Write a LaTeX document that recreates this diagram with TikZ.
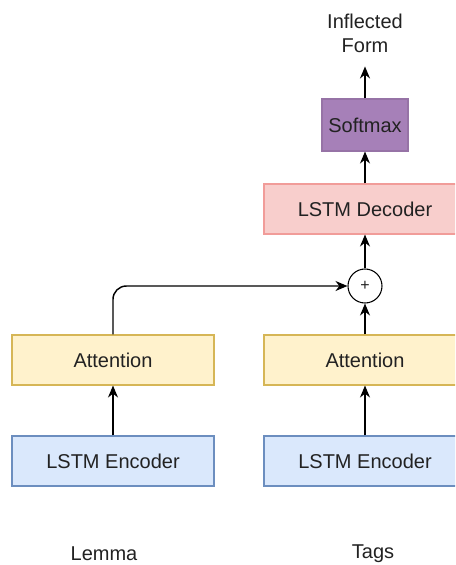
\documentclass[tikz,border=0pt]{standalone}
\usepackage{fontspec}
\setmainfont{Liberation Sans}
\usetikzlibrary{arrows.meta}

\definecolor{encfill}{RGB}{218,232,252}
\definecolor{encline}{RGB}{108,142,191}
\definecolor{attfill}{RGB}{255,242,204}
\definecolor{attline}{RGB}{214,182,86}
\definecolor{decfill}{RGB}{248,206,204}
\definecolor{decline}{RGB}{241,156,153}
\definecolor{softfill}{RGB}{166,128,184}
\definecolor{softline}{RGB}{150,115,166}
\definecolor{txt}{RGB}{34,34,34}

\begin{document}
\begin{tikzpicture}[x=0.75pt,y=0.75pt,yscale=-1,xscale=1,
  box/.style={draw, line width=0.8pt, minimum width=151.5pt, minimum height=37.5pt, inner sep=0pt, text=txt, font=\fontsize{15}{18}\selectfont},
  encbox/.style={box, fill=encfill, draw=encline},
  attbox/.style={box, fill=attfill, draw=attline},
  decbox/.style={box, fill=decfill, draw=decline},
  softbox/.style={box, fill=softfill, draw=softline, minimum width=64.5pt, minimum height=39pt},
  label/.style={text=txt, font=\fontsize{15}{18}\selectfont, align=center, inner sep=0pt},
  arr/.style={line width=1.1pt, -{Stealth[length=9pt,width=7.5pt]}}]
\useasboundingbox (0,0) rectangle (455,565);
\clip (0,0) rectangle (455,565);

%Shape: Rectangle [encoders]
\node [encbox] (encL) at (113,461) {LSTM Encoder};
\node [encbox] (encR) at (365,461) {LSTM Encoder};
%Shape: Rectangle [attention]
\node [attbox] (attL) at (113,360) {Attention};
\node [attbox] (attR) at (365,360) {Attention};
%Shape: Circle [sum]
\node [draw, circle, line width=0.8pt, minimum size=25.5pt, inner sep=0pt, text=txt, font=\fontsize{12}{14}\selectfont] (plus) at (365,286) {+};
%Shape: Rectangle [decoder and softmax]
\node [decbox] (dec) at (365,209) {LSTM Decoder};
\node [softbox] (soft) at (365,125) {Softmax};

% Text Node
\node [label] (out) at (365,33) {Inflected\\Form};
% Text Node
\node [label] (lemma) at (104,554) {Lemma};
% Text Node
\node [label] (tags) at (373,554) {Tags};

%Straight Lines
\draw [arr] (encL) -- (attL);
\draw [arr] (encR) -- (attR);
\draw [arr] (attR) -- (plus);
\draw [arr, rounded corners=10] (attL.north) |- (plus.west);
\draw [arr] (plus) -- (dec);
\draw [arr] (dec) -- (soft);
\draw [arr] (soft.north) -- ++(0,-32);

\end{tikzpicture}
\end{document}
